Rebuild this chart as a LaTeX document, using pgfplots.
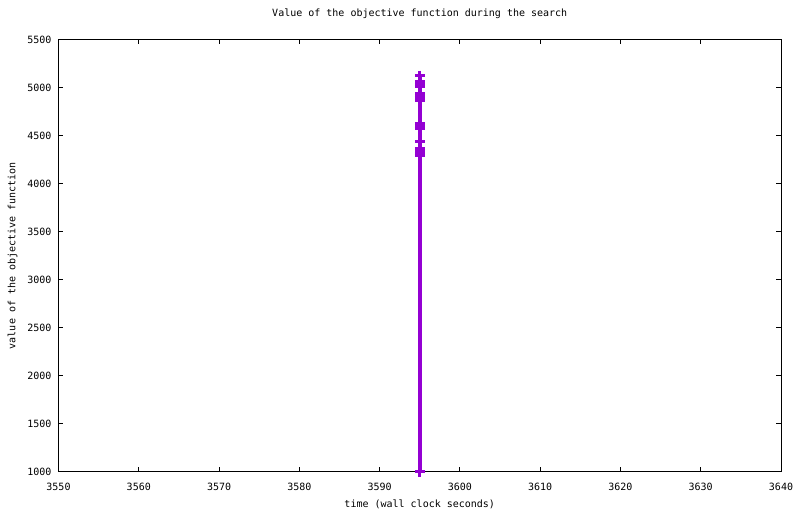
\documentclass[border=0pt]{standalone}
\usepackage{fontspec}
\setmainfont{DejaVu Sans Mono}
\usepackage{pgfplots}
\pgfplotsset{compat=1.18}
\definecolor{darkviolet}{RGB}{148,0,211}

\begin{document}
\fontsize{7.5}{9}\selectfont
\begin{tikzpicture}
  % 1 px of the reference = 0.75pt
  \path[use as bounding box] (-43.875pt,-31.5pt) rectangle (556.125pt,354pt);
  \begin{axis}[
      scale only axis,
      width=541.875pt,
      height=324.375pt,
      xmin=3550, xmax=3640,
      ymin=1000, ymax=5500,
      xtick={3550,3560,...,3640},
      ytick={1000,1500,...,5500},
      tick align=inside,
      xtick pos=both, ytick pos=both,
      major tick length=3.75pt,
      axis line style={line width=0.75pt},
      every tick/.style={black, line width=0.75pt},
      /pgf/number format/.cd, 1000 sep={}, assume math mode=true, /pgfplots/.cd,
      xticklabel style={anchor=base, inner sep=0pt, yshift=-13.5pt},
      yticklabel style={anchor=east, inner sep=0pt, xshift=-5.1pt},
      title={Value of the objective function during the search},
      title style={at={(axis description cs:0.5,1)}, anchor=base, inner sep=0pt, yshift=11.6pt},
      xlabel={time (wall clock seconds)},
      xlabel style={at={(axis description cs:0.5,0)}, anchor=base, inner sep=0pt, yshift=-27pt},
      ylabel={value of the objective function},
      ylabel style={at={(axis description cs:-0.0637,0.5)}, anchor=center, inner sep=0pt},
      clip=false,
    ]
    \addplot[darkviolet, line width=3.2pt, mark=+, mark size=3.75pt,
             mark options={line width=2.25pt}]
      coordinates {
        (3595,1000)
        (3595,4289) (3595,4315) (3595,4341) (3595,4368)
        (3595,4440)
        (3595,4573) (3595,4600) (3595,4628)
        (3595,4868) (3595,4892) (3595,4916) (3595,4940)
        (3595,5008) (3595,5036) (3595,5063)
        (3595,5125)
      };
  \end{axis}
\end{tikzpicture}
\end{document}
